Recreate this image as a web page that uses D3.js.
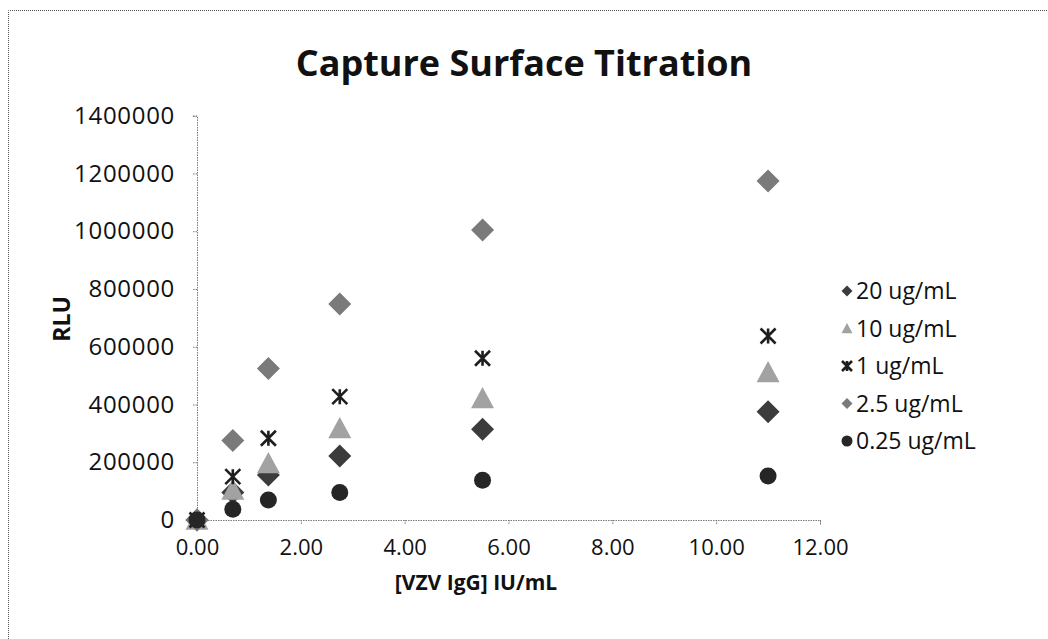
<!DOCTYPE html>
<html>
<head>
<meta charset="utf-8">
<script src="https://cdn.jsdelivr.net/npm/d3@7"></script>
<style>
  html, body { margin: 0; padding: 0; background: #fff; }
  svg { display: block; }
  text { font-family: "Open Sans", "DejaVu Sans", sans-serif; fill: #111; }
</style>
</head>
<body>
<svg id="chart" width="1048" height="639"></svg>
<script>
// Concentrations of VZV IgG (IU/mL) on the x axis
const concentrations = [0, 0.69, 1.375, 2.75, 5.5, 11];

// RLU readings for each capture-surface coating
const series20 = [0, 95000, 156000, 222000, 314000, 375000];
const series10 = [0, 104000, 196000, 317000, 421000, 511000];
const series1 = [0, 150000, 283000, 427000, 560000, 637000];
const series2_5 = [0, 275000, 525000, 748000, 1004000, 1174000];
const series0_25 = [0, 37000, 69000, 95000, 138000, 152000];

const seriesNames = ["20 ug/mL", "10 ug/mL", "1 ug/mL", "2.5 ug/mL", "0.25 ug/mL"];
const xTicks = [0, 2, 4, 6, 8, 10, 12];
const yTicks = [0, 200000, 400000, 600000, 800000, 1000000, 1200000, 1400000];

const chartTitle = "Capture Surface Titration";
const xTitle = "[VZV IgG] IU/mL";
const yTitle = "RLU";

const seriesValues = [series20, series10, series1, series2_5, series0_25];
const markerStyles = [
  { shape: "diamond", fill: "#3c3c3c", size: 23, legendSize: 11 },
  { shape: "triangle", fill: "#a2a2a2", size: 23, legendSize: 11 },
  { shape: "star", fill: "#1e1e1e", size: 15, legendSize: 10 },
  { shape: "diamond", fill: "#7a7a7a", size: 23, legendSize: 11 },
  { shape: "circle", fill: "#262626", size: 17, legendSize: 11 }
];

const svg = d3.select("#chart");

// Outer chart frame (dotted border)
svg.append("path")
  .attr("d", "M8.5,639 L8.5,10.5 L1048,10.5")
  .attr("fill", "none")
  .attr("stroke", "#555")
  .attr("stroke-width", 1)
  .attr("stroke-dasharray", "1,1");

const plot = { left: 197, right: 820, top: 115.7, bottom: 520 };

const x = d3.scaleLinear().domain([0, 12]).range([plot.left, plot.right]);
const y = d3.scaleLinear().domain([0, 1400000]).range([plot.bottom, plot.top]);

// Axes
const xAxis = d3.axisBottom(x).tickValues(xTicks).tickFormat(d3.format(".2f")).tickSizeOuter(0).tickSize(5).tickPadding(14);
const yAxis = d3.axisLeft(y).tickValues(yTicks).tickFormat(d3.format("d")).tickSizeOuter(0).tickSize(5).tickPadding(17);

const gx = svg.append("g").attr("transform", `translate(0,${plot.bottom})`).call(xAxis);
const gy = svg.append("g").attr("transform", `translate(${plot.left},0)`).call(yAxis);

[gx, gy].forEach(g => {
  g.select(".domain").attr("stroke", "#7a7a7a").attr("stroke-dasharray", "1.5,1");
  g.selectAll(".tick line").attr("stroke", "#7a7a7a").attr("stroke-dasharray", "1.5,1");
  g.selectAll(".tick text")
    .attr("font-family", "'Open Sans', sans-serif")
    .attr("fill", "#222");
});
gx.selectAll(".tick text").attr("font-size", 22);
gy.selectAll(".tick text").attr("font-size", 24).attr("letter-spacing", 0.7);

// Marker symbol generators
function symbolPath(shape, size) {
  const h = size / 2;
  if (shape === "diamond") return `M0,${-h} L${h},0 L0,${h} L${-h},0 Z`;
  if (shape === "triangle") return `M0,${-h} L${h},${h * 0.85} L${-h},${h * 0.85} Z`;
  if (shape === "circle") return d3.symbol().type(d3.symbolCircle).size(Math.PI * h * h)();
  return null;
}

function drawMarker(g, style, size) {
  if (style.shape === "star") {
    const h = size / 2;
    g.append("path")
      .attr("d", `M${-h},${-h} L${h},${h} M${h},${-h} L${-h},${h} M0,${-h} L0,${h}`)
      .attr("stroke", style.fill)
      .attr("stroke-width", 2.6)
      .attr("fill", "none");
  } else {
    g.append("path")
      .attr("d", symbolPath(style.shape, size))
      .attr("fill", style.fill);
  }
}

// Data points, one group per series
seriesValues.forEach((vals, si) => {
  const style = markerStyles[si];
  const g = svg.append("g").attr("class", "series");
  g.selectAll("g.pt")
    .data(concentrations.map((c, i) => ({ c, v: vals[i] })))
    .join("g")
    .attr("class", "pt")
    .attr("transform", d => `translate(${x(d.c)},${y(d.v)})`)
    .each(function () { drawMarker(d3.select(this), style, style.size); });
});

// Title
svg.append("text")
  .attr("x", 524)
  .attr("y", 76)
  .attr("text-anchor", "middle")
  .attr("font-size", 36)
  .attr("font-weight", "bold")
  .text(chartTitle);

// Axis titles
svg.append("text")
  .attr("x", 476)
  .attr("y", 590)
  .attr("text-anchor", "middle")
  .attr("font-size", 21)
  .attr("font-weight", "bold")
  .text(xTitle);

svg.append("text")
  .attr("transform", "translate(70,319) rotate(-90)")
  .attr("text-anchor", "middle")
  .attr("font-size", 23)
  .attr("font-weight", "bold")
  .text(yTitle);

// Legend
const legend = svg.append("g");
seriesNames.forEach((name, i) => {
  const row = legend.append("g").attr("transform", `translate(847,${291 + i * 37.5})`);
  drawMarker(row, markerStyles[i], markerStyles[i].legendSize);
  row.append("text")
    .attr("x", 9)
    .attr("y", 0)
    .attr("dy", "0.35em")
    .attr("font-size", 23)
    .attr("fill", "#222")
    .text(name);
});
</script>
</body>
</html>
